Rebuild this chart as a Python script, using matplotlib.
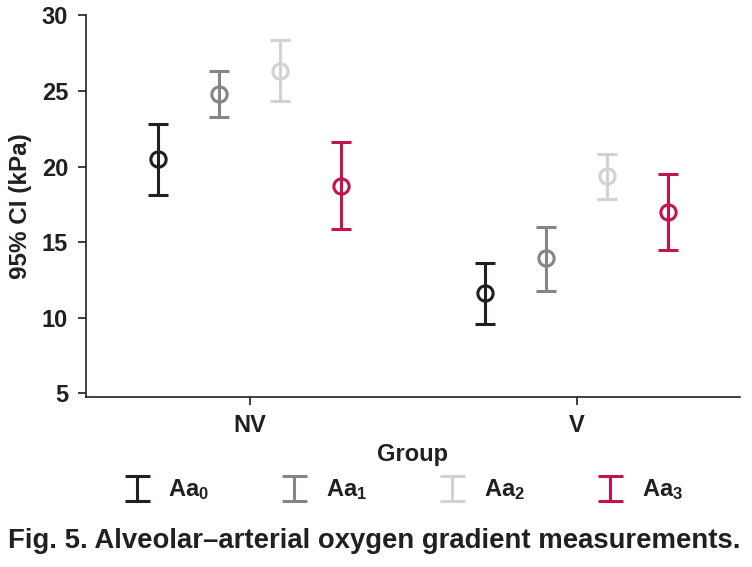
import matplotlib
matplotlib.use("Agg")
import matplotlib.pyplot as plt
from matplotlib.path import Path
from matplotlib.lines import Line2D
import numpy as np

plt.rcParams['font.family'] = ['Liberation Sans', 'DejaVu Sans']
plt.rcParams['font.weight'] = 'bold'
plt.rcParams['mathtext.fontset'] = 'custom'
plt.rcParams['mathtext.rm'] = 'Liberation Sans:bold'
plt.rcParams['mathtext.it'] = 'Liberation Sans:bold'
plt.rcParams['mathtext.bf'] = 'Liberation Sans:bold'

groups = ["NV", "V"]
series = ["Aa$_0$", "Aa$_1$", "Aa$_2$", "Aa$_3$"]
colors = ["#231f20", "#858585", "#d2d2d2", "#c3154b"]
means = {
    "Aa0": [20.48, 11.61],
    "Aa1": [24.77, 13.93],
    "Aa2": [26.32, 19.37],
    "Aa3": [18.73, 16.99],
}
lower = {
    "Aa0": [18.11, 9.58],
    "Aa1": [23.27, 11.79],
    "Aa2": [24.31, 17.85],
    "Aa3": [15.87, 14.48],
}
upper = {
    "Aa0": [22.81, 13.60],
    "Aa1": [26.30, 16.02],
    "Aa2": [28.35, 20.83],
    "Aa3": [21.62, 19.52],
}
yticks = [5, 10, 15, 20, 25, 30]
offsets = [-0.28, -0.093, 0.093, 0.28]

fig = plt.figure(figsize=(7.52, 5.67), dpi=100)
ax = fig.add_axes([86/752, 1-396.7/567, (740-86)/752, (396.7-15.3)/567])

x = np.arange(len(groups))
keys = list(means.keys())
for i, k in enumerate(keys):
    m = np.array(means[k]); lo = np.array(lower[k]); hi = np.array(upper[k])
    ax.errorbar(x + offsets[i], m, yerr=[m - lo, hi - m], fmt='o', color=colors[i],
                mfc='none', mec=colors[i], mew=2.2, ms=11, elinewidth=2.2,
                capsize=7.5, capthick=2.2)

ax.set_xlim(-0.5, 1.5)
ax.set_ylim(4.78, 30)
ax.set_yticks(yticks)
ax.set_xticks(x)
ax.set_xticklabels(groups)
for s in ['top', 'right']:
    ax.spines[s].set_visible(False)
for s in ['left', 'bottom']:
    ax.spines[s].set_linewidth(1.2)
    ax.spines[s].set_color('#231f20')
ax.tick_params(axis='both', labelsize=17, colors='#231f20', width=1.2, length=5.8)
ax.tick_params(axis='y', pad=7)
ax.tick_params(axis='x', pad=7)
ax.set_ylabel("95% CI (kPa)", fontsize=17.5, fontweight='bold', color='#231f20', labelpad=7)
ax.set_xlabel("Group", fontsize=17, fontweight='bold', color='#231f20', labelpad=4)

ibeam = Path([(-1, 1), (1, 1), (0, 1), (0, -1), (-1, -1), (1, -1)],
             [Path.MOVETO, Path.LINETO, Path.MOVETO, Path.LINETO, Path.MOVETO, Path.LINETO])
handles = [Line2D([], [], linestyle='none', marker=ibeam, markersize=18,
                  markeredgewidth=2.2, markeredgecolor=c, markerfacecolor='none') for c in colors]
fig.legend(handles, series, loc='center', bbox_to_anchor=(401/752, 1-490/567), ncol=4,
           frameon=False, fontsize=17, columnspacing=2.85, handlelength=1.5,
           handletextpad=0.6, labelcolor='#231f20')

fig.text(8/752, 1-541/567, "Fig. 5. Alveolar\u2013arterial oxygen gradient measurements.",
         fontsize=19.8, fontweight='bold', color='#231f20', ha='left', va='center')

fig.savefig("out.png", dpi=100)
